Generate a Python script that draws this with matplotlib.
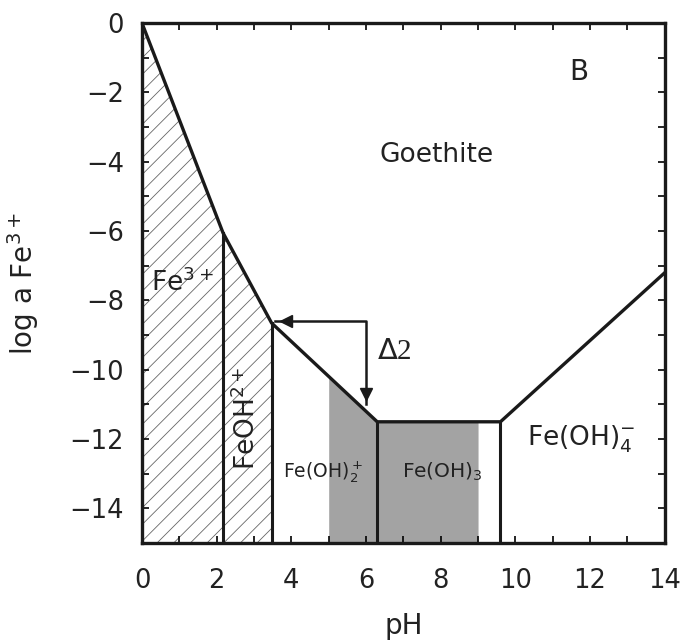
import numpy as np
import matplotlib
matplotlib.use("Agg")
import matplotlib.pyplot as plt

# boundary of goethite solubility (pH, log a Fe3+)
ph_pts = [0.0, 2.17, 3.47, 6.3, 9.6, 14.0]
loga_pts = [0.0, -6.05, -8.65, -11.5, -11.5, -7.2]
# species dividing lines
dividers = [2.17, 3.47, 6.3, 9.6]
# shaded pH window
gray_lo, gray_hi = 5.0, 9.0
# arrow (delta 2)
arrow_x = [3.55, 6.0, 6.0]
arrow_y = [-8.6, -8.6, -11.0]

plt.rcParams['font.family'] = ['DejaVu Sans']
plt.rcParams['hatch.linewidth'] = 0.6
plt.rcParams['hatch.color'] = '#666666'

fig = plt.figure(figsize=(6.86, 6.42), dpi=100)
ax = fig.add_axes([0.207, 0.154, 0.762, 0.810])

ymin = -15
# hatched Fe3+ / FeOH2+ area
xh = np.linspace(0, dividers[1], 200)
ax.fill_between(xh, np.interp(xh, ph_pts, loga_pts), ymin, facecolor='none',
                edgecolor='#666666', hatch='//', linewidth=0)
# gray area
xg = np.array([gray_lo, 6.3, gray_hi])
ax.fill_between(xg, np.interp(xg, ph_pts, loga_pts), ymin, color='#a3a3a3', linewidth=0)

ax.plot(ph_pts, loga_pts, color='#1a1a1a', lw=2.4, solid_joinstyle='miter')
for d in dividers:
    ax.plot([d, d], [np.interp(d, ph_pts, loga_pts), ymin], color='#1a1a1a', lw=2.2)

# arrow
ax.plot(arrow_x, arrow_y, color='#1a1a1a', lw=1.8)
ax.plot(arrow_x[0] + 0.3, arrow_y[0], marker='<', ms=8, color='#1a1a1a')
ax.plot(arrow_x[2], arrow_y[2] + 0.3, marker='v', ms=8, color='#1a1a1a')
ax.text(6.3, -9.5, r'$\Delta$2', family=['Liberation Serif', 'DejaVu Serif'],
        fontsize=21, color='#222222', va='center', ha='left')

tc = '#222222'
ax.text(11.7, -1.4, 'B', fontsize=20, ha='center', va='center', color=tc)
ax.text(7.9, -3.8, 'Goethite', fontsize=19, ha='center', va='center', color=tc)
ax.text(0.25, -7.5, r'Fe$^{3+}$', fontsize=19, ha='left', va='center', color=tc)
ax.text(2.8, -11.4, r'FeOH$^{2+}$', fontsize=19, ha='center', va='center',
        rotation=90, color=tc)
ax.text(4.85, -12.95, r'Fe(OH)$_2^+$', fontsize=13.5, ha='center', va='center', color=tc)
ax.text(8.05, -12.95, r'Fe(OH)$_3$', fontsize=14.5, ha='center', va='center', color=tc)
ax.text(11.75, -12.0, r'Fe(OH)$_4^{-}$', fontsize=19, ha='center', va='center', color=tc)

ax.set_xlim(0, 14)
ax.set_ylim(-15, 0)
ax.set_xticks(np.arange(0, 15, 2))
ax.set_yticks(np.arange(-14, 1, 2))
ax.set_xticks(np.arange(0, 15, 1), minor=True)
ax.set_yticks(np.arange(-15, 1, 1), minor=True)
ax.tick_params(which='both', direction='in', top=True, right=True, length=5,
               width=1.2, labelsize=18.5, labelcolor=tc)
ax.tick_params(axis='x', pad=18)
ax.tick_params(axis='y', pad=13)
for s in ax.spines.values():
    s.set_linewidth(2.4)
    s.set_color('#1a1a1a')

ax.set_xlabel('pH', fontsize=20, color=tc)
ax.set_ylabel(r'log a Fe$^{3+}$', fontsize=20, color=tc)
ax.xaxis.set_label_coords(0.5, -0.16)
ax.yaxis.set_label_coords(-0.228, 0.5)
ax.xaxis.label.set_va('center')
ax.yaxis.label.set_va('center')

fig.savefig('out.png', dpi=100)
